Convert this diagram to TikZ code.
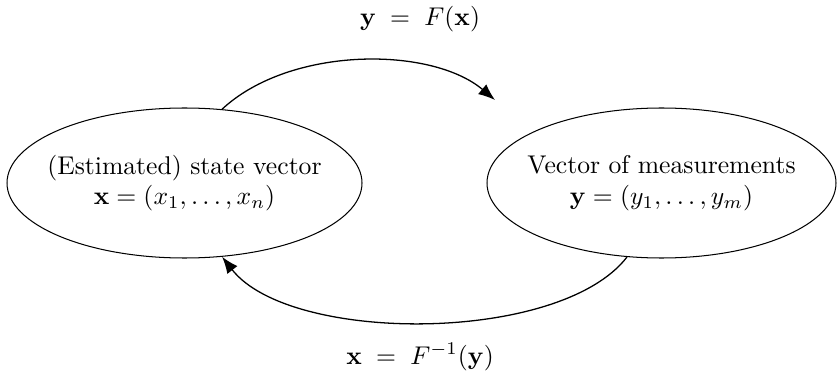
\documentclass[tikz,border=0pt]{standalone}
\usetikzlibrary{shapes.geometric,arrows.meta}
\begin{document}
\begin{tikzpicture}[x=0.39pt,y=0.39pt,
  blob/.style={draw,ellipse,inner sep=0pt},
  lbl/.style={align=center,font=\normalsize},
  conn/.style={draw,-{Latex[length=6.5pt,width=5pt]},line width=0.5pt}]
\useasboundingbox (0,0) rectangle (838,378);
\node[blob,minimum width=355*0.39pt,minimum height=150*0.39pt] (L) at (184.5,195) {};
\node[lbl] (Lt) at (L.center) {(Estimated) state vector\\ $\mathbf{x}=(x_1,\ldots,x_n)$};
\node[blob,minimum width=349*0.39pt,minimum height=150*0.39pt] (R) at (661.5,195) {};
\node[lbl] (Rt) at (R.center) {Vector of measurements\\ $\mathbf{y}=(y_1,\ldots,y_m)$};
\coordinate (T) at (495,278);
\draw[conn] (L.63) .. controls (290,332) and (431,332) .. (T);
\draw[conn] (R.245) .. controls (560,34) and (290,34) .. (L.297);
\node (top) at (420,359) {$\mathbf{y}\;=\;F(\mathbf{x})$};
\node (bot) at (420,21) {$\mathbf{x}\;=\;F^{-1}(\mathbf{y})$};
\end{tikzpicture}
\end{document}
